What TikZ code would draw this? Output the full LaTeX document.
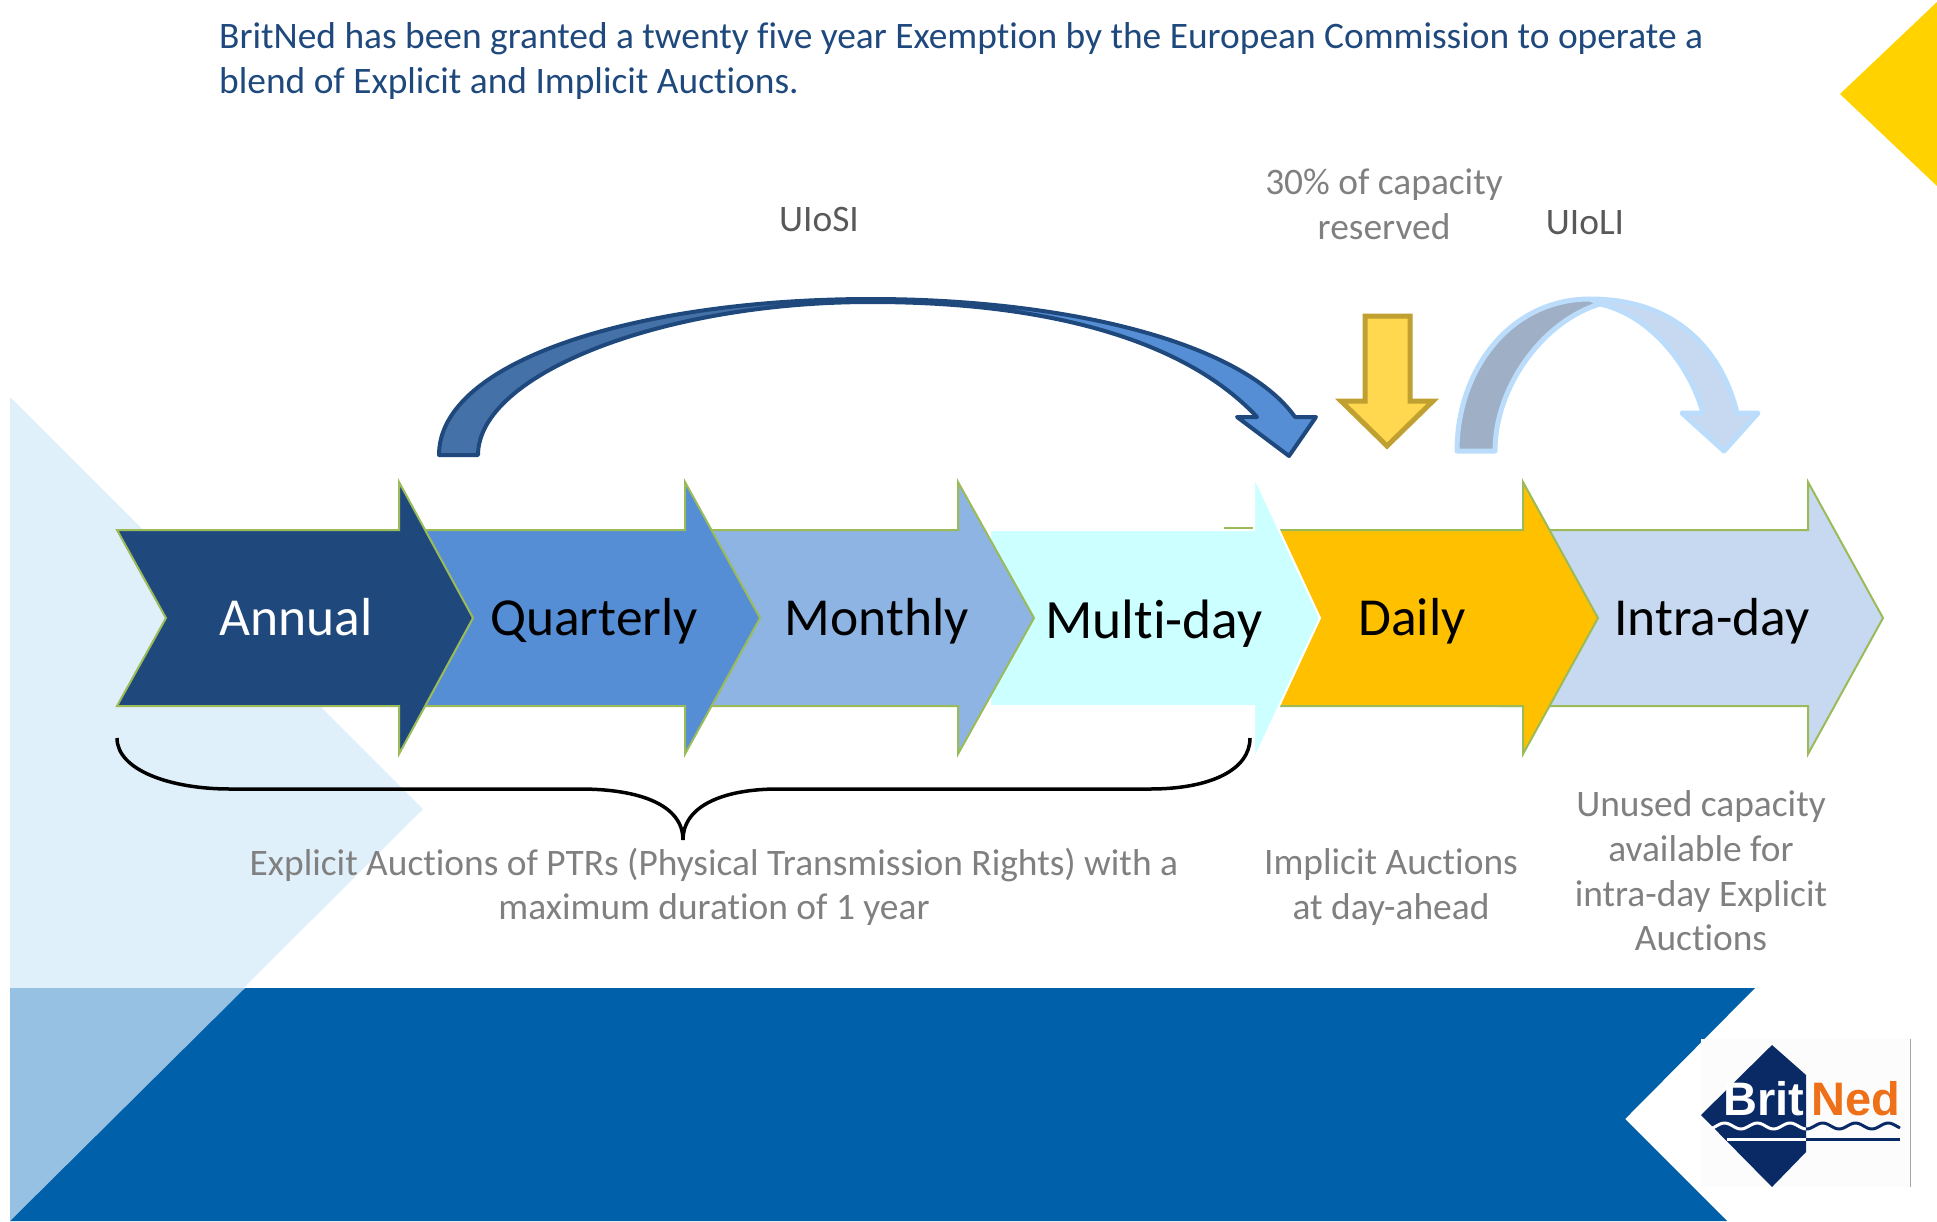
\documentclass[tikz,border=0pt]{standalone}
\usepackage{fontspec}
\setmainfont[Ligatures=NoCommon]{Carlito}
\newfontfamily\logofont{Liberation Sans}
\definecolor{bandblue}{HTML}{0060A9}
\definecolor{paleblue}{HTML}{E0F0FB}
\definecolor{midblue}{HTML}{96C1E2}
\definecolor{sunyellow}{HTML}{FFD200}
\definecolor{headblue}{HTML}{1F497D}
\definecolor{tailblue}{HTML}{4472A8}
\definecolor{quarterblue}{HTML}{558ED5}
\definecolor{monthblue}{HTML}{8EB4E3}
\definecolor{multicyan}{HTML}{CCFFFF}
\definecolor{dailyorange}{HTML}{FFC000}
\definecolor{intrablue}{HTML}{C6D9F1}
\definecolor{intrarim}{HTML}{BBDDFB}
\definecolor{intratail}{HTML}{9FAFC6}
\definecolor{edgegreen}{HTML}{9BBB59}
\definecolor{goldrim}{HTML}{BFA030}
\definecolor{goldfill}{HTML}{FFD84F}
\definecolor{logonavy}{HTML}{0A2A66}
\definecolor{logoorange}{HTML}{EE7018}
\tikzset{
    px/.style={x=1pt, y=-1pt},
    note/.style={align=center, inner sep=0pt, text=black!50, font=\fontsize{37.4}{44.6}\selectfont},
    rule/.style={note, text=black!65},
    chevron/.style={line width=2pt, line join=miter},
    steplabel/.style={anchor=base, inner sep=0pt},
}
\begin{document}
\begin{tikzpicture}[px]
    \useasboundingbox (0,0) rectangle (1937,1221);
    % Background shapes
    \fill[sunyellow] (1937,2) -- (1840,94) -- (1937,186) -- cycle;
    \fill[paleblue] (10,397) -- (423,809) -- (10,1221) -- cycle;
    \fill[bandblue] (10,988) -- (1755,988) -- (1625,1119) -- (1727,1221) -- (10,1221) -- cycle;
    \fill[midblue] (10,988) -- (245,988) -- (10,1221) -- cycle;
    % Draw chain of arrows, last one first
    \foreach \n/\lab/\lx/\ly/\tl/\nx/\sh/\tip/\hd/\col/\edge/\tcol/\fs in {
        intra/Intra-day/1712/635/1500/1500/1808/1883/136/intrablue/edgegreen/black/53.5,
        daily/Daily/1412/635/1270/1270/1523/1598/136/dailyorange/edgegreen/black/53.5,
        multi/Multi-day/1154/638/990/990/1254/1320/142/multicyan/white/black/55.5,
        monthly/Monthly/877/635/700/700/958/1034/136/monthblue/edgegreen/black/53.5,
        quarterly/Quarterly/594/635/420/420/685/760/136/quarterblue/edgegreen/black/53.5,
        annual/Annual/296/635/117/166/399/473/136/headblue/edgegreen/white/53.5}
    {
        \draw[chevron, draw=\edge, fill=\col] (\tl,530) -- (\sh,530) -- (\sh,{618-\hd}) -- (\tip,618)
            -- (\sh,{618+\hd}) -- (\sh,706) -- (\tl,706) -- (\nx,618) -- cycle;
        \node[steplabel, text=\tcol, font=\fontsize{\fs}{60}\selectfont] (\n) at (\lx,\ly) {\lab};
    }
    \draw[edgegreen, line width=1.5pt] (1224,528) -- (1253,528);
    % Long curved arrow
    \fill[tailblue] (439,455) .. controls (439,360) and (640,299) .. (871,299) -- (871,302)
        .. controls (660,302) and (478,375) .. (478,455) -- cycle;
    \draw[headblue, line width=4pt, line join=round, fill=quarterblue] (871,299)
        .. controls (1060,299) and (1240,340) .. (1295,417) -- (1316,417) -- (1289,456) -- (1237,417) -- (1257,417)
        .. controls (1190,345) and (1060,302) .. (871,302) -- cycle;
    \draw[headblue, line width=4pt, line join=round] (871,299) .. controls (640,299) and (439,360) .. (439,455)
        -- (478,455) .. controls (478,375) and (660,302) .. (871,302);
    % Yellow arrow
    \draw[line width=5pt, draw=goldrim, fill=goldfill] (1365,316) -- (1410,316) -- (1410,401)
        -- (1433,401) -- (1387,446) -- (1341,401) -- (1365,401) -- cycle;
    % Short curved arrow
    \fill[intratail] (1457,451) .. controls (1457,370) and (1510,299) .. (1590,299) -- (1600,304)
        .. controls (1545,320) and (1495,385) .. (1495,451) -- cycle;
    \draw[intrarim, line width=5pt, line join=round, fill=intrablue] (1590,299)
        .. controls (1680,299) and (1723,355) .. (1737,413) -- (1758,413) -- (1724,451) -- (1682,413) -- (1703,413)
        .. controls (1690,365) and (1650,315) .. (1600,304) -- cycle;
    \draw[intrarim, line width=5pt, line join=round] (1590,299) .. controls (1510,299) and (1457,370) .. (1457,451)
        -- (1495,451) .. controls (1495,385) and (1545,320) .. (1600,304);
    % Brace below the explicit auctions
    \draw[line width=3.5pt] (117,738) .. controls (117,770) and (170,789) .. (230,789) -- (580,789)
        .. controls (640,789) and (683,805) .. (683,840) .. controls (683,805) and (725,789) .. (778,789)
        -- (1150,789) .. controls (1210,789) and (1250,770) .. (1250,738);
    % Texts
    \node[anchor=west, align=left, inner sep=0pt, text=headblue, font=\fontsize{37.4}{44.6}\selectfont] (intro) at (219,61)
        {BritNed has been granted a twenty five year Exemption by the European Commission to operate a\\
         blend of Explicit and Implicit Auctions.};
    \node[rule] (uiosi) at (819,219) {UIoSI};
    \node[note] (reserved) at (1384,204) {30\% of capacity\\reserved};
    \node[rule] (uioli) at (1585,223) {UIoLI};
    \node[note] (explicit) at (714,887) {Explicit Auctions of PTRs (Physical Transmission Rights) with a\\maximum duration of 1 year};
    \node[note] (implicit) at (1391,887) {Implicit Auctions\\at day-ahead};
    \node[note] (unused) at (1701,871) {Unused capacity\\available for\\intra-day Explicit\\Auctions};
    % Logo
    \fill[black!1] (1701,1039) rectangle (1910,1187);
    \draw[black!35, line width=1pt] (1910,1039) -- (1910,1187);
    \fill[logonavy] (1772,1045) -- (1806,1075) -- (1806,1152) -- (1772,1187) -- (1701,1115) -- cycle;
    \node[anchor=base west, inner sep=0pt, text=white, font=\logofont\bfseries\fontsize{47}{50}\selectfont] (brit) at (1723,1115) {Brit};
    \node[anchor=base west, inner sep=0pt, text=logoorange, font=\logofont\bfseries\fontsize{47}{50}\selectfont] (ned) at (1811,1115) {Ned};
    \draw[white, line width=3pt] plot[smooth, domain=1711:1806, samples=40] (\x,{1126+3*sin((\x-1700)*11)});
    \draw[logonavy, line width=3pt] plot[smooth, domain=1806:1900, samples=40] (\x,{1126+3*sin((\x-1700)*11)});
    \draw[white, line width=3pt] (1727,1139) -- (1806,1139);
    \draw[logonavy, line width=3pt] (1806,1139) -- (1900,1139);
\end{tikzpicture}
\end{document}
